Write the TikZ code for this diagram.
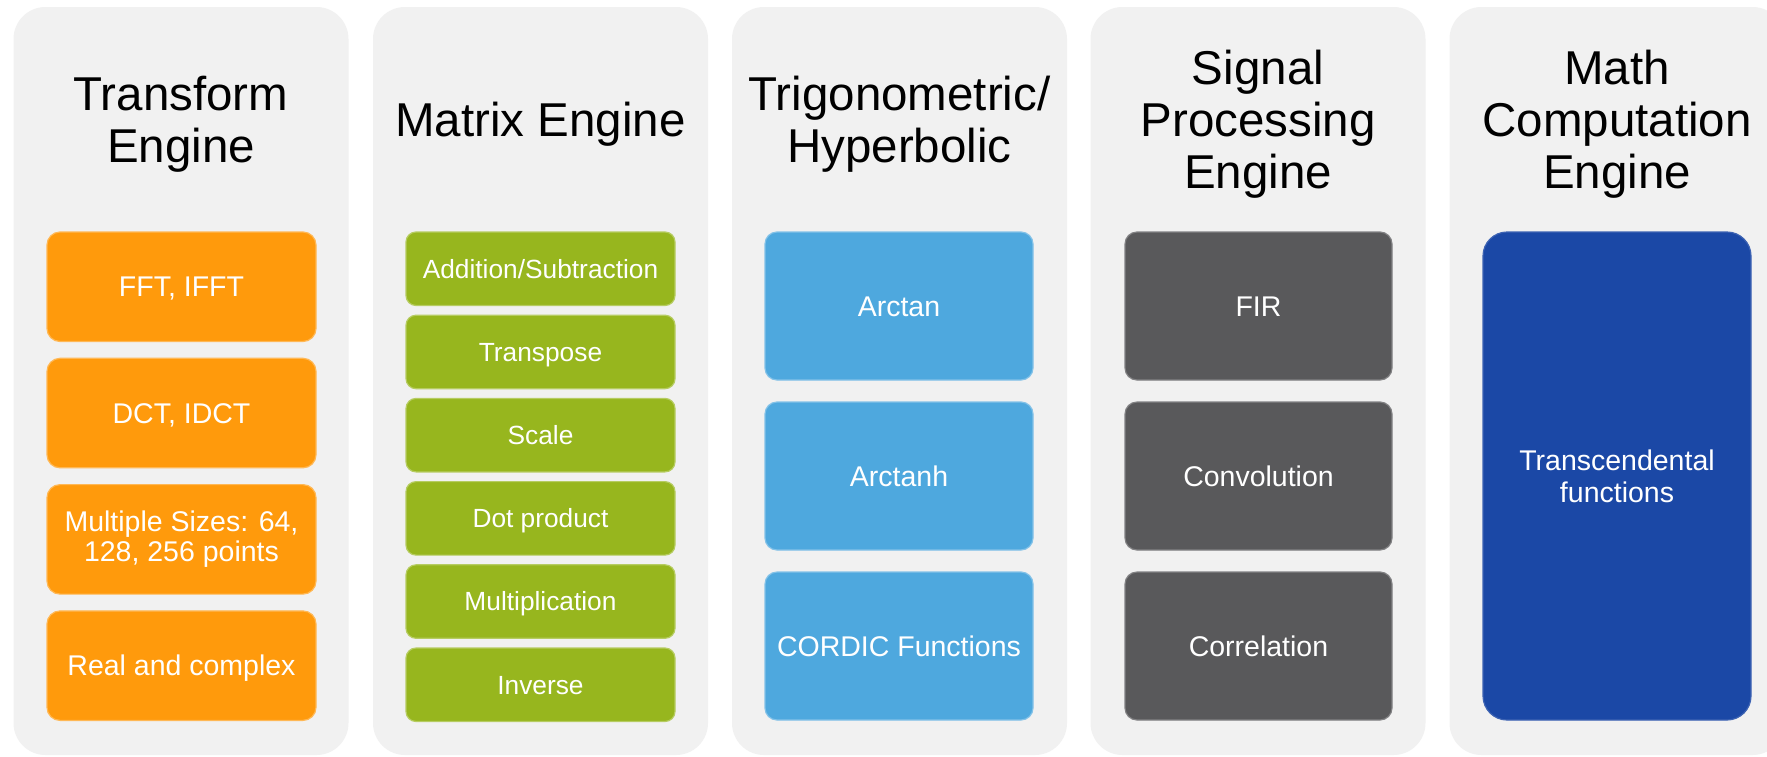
\documentclass[tikz,border=0pt]{standalone}
\usepackage{fontspec}
\setmainfont{Liberation Sans}

\definecolor{panelgray}{HTML}{F1F1F1}
\definecolor{fftorange}{HTML}{FF9A0C}
\definecolor{matgreen}{HTML}{97B61E}
\definecolor{trigblue}{HTML}{4EA8DE}
\definecolor{dspgray}{HTML}{59595B}
\definecolor{mathnavy}{HTML}{1B48A6}

\begin{document}
\begin{tikzpicture}[x=1pt,y=-1pt,
  panel/.style={fill=panelgray, rounded corners=32pt, minimum width=335pt,
    minimum height=748pt, inner sep=0pt},
  title/.style={align=center, inner sep=0pt, text=black,
    font=\fontsize{47.5}{52}\selectfont},
  unit/.style={inner sep=0pt, text=white, align=center, line width=1.2pt,
    font=\fontsize{28.5}{30.5}\selectfont},
  capline/.style={text height=20.4pt, text depth=0pt},
  fftbox/.style={unit, fill=fftorange, draw=fftorange!70!white,
    rounded corners=13pt, minimum width=269pt, minimum height=109.5pt},
  matbox/.style={unit, fill=matgreen, draw=matgreen!70!white,
    rounded corners=10pt, minimum width=269pt, minimum height=73.5pt,
    font=\fontsize{26.3}{29}\selectfont, text height=18.8pt, text depth=0pt},
  trigbox/.style={unit, capline, fill=trigblue, draw=trigblue!70!white,
    rounded corners=12pt, minimum width=268pt, minimum height=148pt},
  dspbox/.style={unit, capline, fill=dspgray, draw=dspgray!75!white,
    rounded corners=12pt, minimum width=267pt, minimum height=148pt},
  mathbox/.style={unit, fill=mathnavy, draw=mathnavy!85!white,
    rounded corners=24pt, minimum width=268pt, minimum height=488pt,
    font=\fontsize{28.5}{32}\selectfont}
]
\useasboundingbox (0,0) rectangle (1767,756);
\fill[white] (0,0) rectangle (1767,756);
\clip (0,0) rectangle (1767,756);

% engine panels
\node[panel] (p1) at (181,381) {};
\node[panel] (p2) at (540.5,381) {};
\node[panel] (p3) at (899.5,381) {};
\node[panel] (p4) at (1258,381) {};
\node[panel] (p5) at (1617,381) {};

% panel titles
\node[title] (t1) at (181,124) {Transform\\Engine};
\node[title] (t2) at (540.5,124) {Matrix Engine};
\node[title] (t3) at (899.5,124) {Trigonometric/\\Hyperbolic};
\node[title] (t4) at (1258,124) {Signal\\Processing\\Engine};
\node[title] (t5) at (1617,124) {Math\\Computation\\Engine};

% transform engine
\node[fftbox, capline] (fft)  at (181.5,286.75) {FFT, IFFT};
\node[fftbox, capline] (dct)  at (181.5,413.05) {DCT, IDCT};
\node[fftbox]          (size) at (181.5,539.35) {Multiple Sizes: 64,\\128, 256 points};
\node[fftbox, capline] (cplx) at (181.5,665.65) {Real and complex};

% matrix engine
\node[matbox] (add)  at (540.5,268.75) {Addition/Subtraction};
\node[matbox] (tr)   at (540.5,351.95) {Transpose};
\node[matbox] (scl)  at (540.5,435.15) {Scale};
\node[matbox] (dot)  at (540.5,518.35) {Dot product};
\node[matbox] (mul)  at (540.5,601.55) {Multiplication};
\node[matbox] (inv)  at (540.5,684.75) {Inverse};

% trigonometric / hyperbolic
\node[trigbox] (atan)   at (899,306) {Arctan};
\node[trigbox] (atanh)  at (899,476) {Arctanh};
\node[trigbox] (cordic) at (899,646) {CORDIC Functions};

% signal processing engine
\node[dspbox] (fir)  at (1258.5,306) {FIR};
\node[dspbox] (conv) at (1258.5,476) {Convolution};
\node[dspbox] (corr) at (1258.5,646) {Correlation};

% math computation engine
\node[mathbox] (trans) at (1617,476) {Transcendental\\functions};
\end{tikzpicture}
\end{document}
